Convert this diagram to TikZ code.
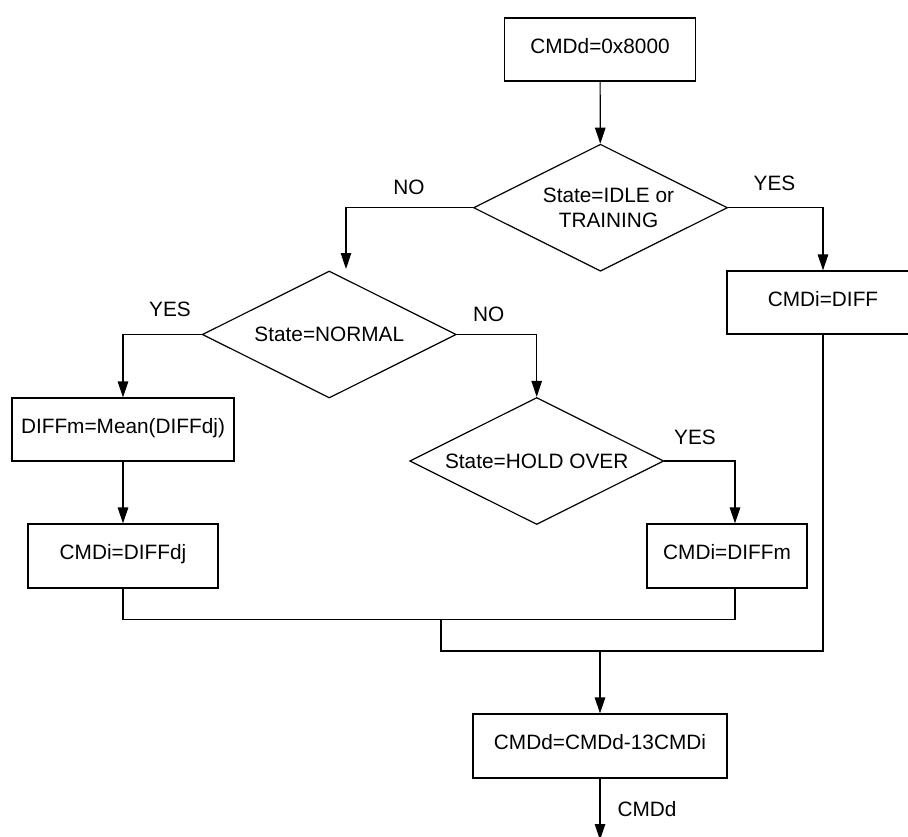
\documentclass[tikz,border=0pt]{standalone}
\usepackage{fontspec}
\setmainfont{Liberation Sans}
\usetikzlibrary{arrows.meta,shapes.geometric}

\begin{document}
\begin{tikzpicture}[x=1pt, y=-1pt, line width=1.2pt,
    >={Triangle[length=16pt,width=10.5pt]},
    every node/.style={font=\fontsize{20.8}{25}\selectfont},
    blocco/.style={draw, rectangle, inner sep=0pt, minimum height=63pt,
      text height=0.72em, text depth=0pt},
    rombo/.style={draw, diamond, aspect=2, inner sep=0pt,
      minimum width=254pt, minimum height=127pt, align=center},
    etichetta/.style={inner sep=0pt, text height=0.72em, text depth=0pt}]
  \useasboundingbox (0,0) rectangle (908,836);

  % Nodi
  \node[blocco, minimum width=191pt] (0) at (600, 49.5) {CMDd=0x8000};
  \node[rombo] (1) at (600.5, 207.7)
    {\hspace*{16pt}State=IDLE or\\\hspace*{16pt}TRAINING};
  \node[rombo] (2) at (329.3, 334.5) {State=NORMAL};
  \node[blocco, minimum width=192pt] (3) at (823, 302.5) {CMDi=DIFF};
  \node[blocco, minimum width=222pt] (4) at (123, 429.5) {DIFFm=Mean(DIFFdj)};
  \node[rombo] (5) at (536.7, 461) {State=HOLD OVER};
  \node[blocco, minimum width=190pt, minimum height=64pt] (6) at (123, 556) {CMDi=DIFFdj};
  \node[blocco, minimum width=160pt, minimum height=64pt] (7) at (727, 556) {CMDi=DIFFm};
  \node[blocco, minimum width=254pt, minimum height=64pt] (8) at (600, 746) {CMDd=CMDd-13CMDi};

  % Etichette
  \node[etichetta] (10) at (409, 190.7) {NO};
  \node[etichetta] (11) at (774.5, 187) {YES};
  \node[etichetta] (12) at (170, 313) {YES};
  \node[etichetta] (13) at (488.7, 317.5) {NO};
  \node[etichetta] (14) at (695, 441) {YES};
  \node[etichetta] (15) at (647, 813) {CMDd};

  \coordinate (a) at (346, 269);
  \coordinate (m) at (441, 619.3);
  \coordinate (j) at (600, 651);
  \coordinate (e) at (600, 840);

  % Archi
  \draw[->] (0) -- (1);
  \draw[->] (1.west) -| (a);
  \draw[->] (1.east) -| (3.north);
  \draw[->] (2.west) -| (4.north);
  \draw[->] (2.east) -| (5.north);
  \draw[->] (5.east) -| ([xshift=8pt]7.north);
  \draw[->] (4) -- (6);
  \draw (6.south) |- (m) -| ([xshift=8pt]7.south);
  \draw (m) |- (3.south |- j) -- (3.south);
  \draw[->] (j) -- (8.north);
  \draw[->] (8.south) -- (e);
\end{tikzpicture}
\end{document}
